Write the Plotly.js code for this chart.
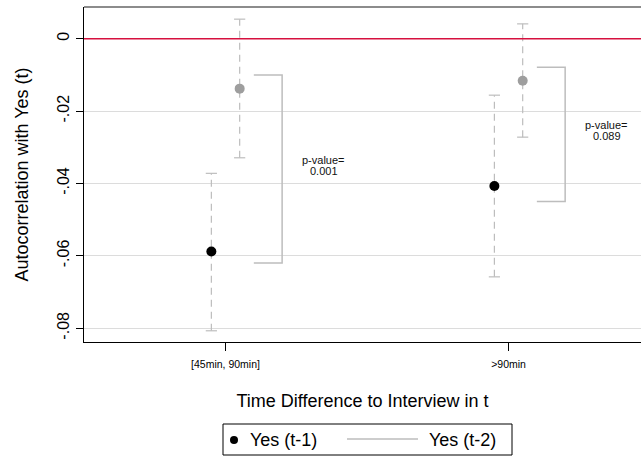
<!DOCTYPE html>
<html>
<head>
<meta charset="utf-8">
<script src="https://cdn.plot.ly/plotly-3.0.1.min.js"></script>
<style>html,body{margin:0;padding:0;background:#fff}#chart{width:641px;height:457px}</style>
</head>
<body>
<div id="chart"></div>
<script>
// ---- data ----
var categories = ["[45min, 90min]", ">90min"];
var catPos = [1, 2];
var yes1   = [-0.0588, -0.0407];
var yes1Lo = [-0.0807, -0.0658];
var yes1Hi = [-0.0372, -0.0156];
var yes2   = [-0.0138, -0.0116];
var yes2Lo = [-0.0329, -0.0272];
var yes2Hi = [ 0.0054,  0.0041];
var bracketTop = [-0.0100, -0.0079];
var bracketBot = [-0.0620, -0.0450];
var pValues = ["0.001", "0.089"];
var seriesNames = ["Yes (t-1)", "Yes (t-2)"];
var yTicks = [0, -0.02, -0.04, -0.06, -0.08];
var yTickText = ["0", "-.02", "-.04", "-.06", "-.08"];

// ---- layout constants ----
var OFF = 0.05, BR0 = 0.1, BR1 = 0.2, PX = 0.347;
var FONT = "Arial, 'Liberation Sans', sans-serif";
var WHISK = "#bdbdbd", GRAY2 = "#9e9e9e";
var ML = 84, MT = 7, PW = 557, PH = 335;
function px2x(p) { return (p - ML) / PW; }
function px2y(p) { return (MT + PH - p) / PH; }

function whiskers(off, lo, hi) {
  var x = [], y = [];
  catPos.forEach(function (c, i) { x.push(c + off, c + off, null); y.push(lo[i], hi[i], null); });
  return {x: x, y: y};
}
function caps(off, lo, hi) {
  var x = [], y = [];
  catPos.forEach(function (c, i) { x.push(c + off, c + off); y.push(lo[i], hi[i]); });
  return {x: x, y: y};
}
var w1 = whiskers(-OFF, yes1Lo, yes1Hi), w2 = whiskers(OFF, yes2Lo, yes2Hi);
var c1 = caps(-OFF, yes1Lo, yes1Hi), c2 = caps(OFF, yes2Lo, yes2Hi);
var bx = [], by = [];
catPos.forEach(function (c, i) {
  bx.push(c + BR0, c + BR1, c + BR1, c + BR0, null);
  by.push(bracketTop[i], bracketTop[i], bracketBot[i], bracketBot[i], null);
});

var traces = [
  {x: w1.x, y: w1.y, mode: "lines", line: {color: WHISK, width: 1.2, dash: "7px,5px"}, hoverinfo: "skip"},
  {x: w2.x, y: w2.y, mode: "lines", line: {color: WHISK, width: 1.2, dash: "7px,5px"}, hoverinfo: "skip"},
  {x: c1.x, y: c1.y, mode: "markers", marker: {symbol: "line-ew", size: 8, line: {color: WHISK, width: 1.2}}, hoverinfo: "skip"},
  {x: c2.x, y: c2.y, mode: "markers", marker: {symbol: "line-ew", size: 8, line: {color: WHISK, width: 1.2}}, hoverinfo: "skip"},
  {x: bx, y: by, mode: "lines", line: {color: WHISK, width: 1.5}, hoverinfo: "skip"},
  {x: catPos.map(function (c) { return c + OFF; }), y: yes2, mode: "markers", name: seriesNames[1],
   marker: {color: GRAY2, size: 10}},
  {x: catPos.map(function (c) { return c - OFF; }), y: yes1, mode: "markers", name: seriesNames[0],
   marker: {color: "#000", size: 10}}
];

var annotations = [];
catPos.forEach(function (c, i) {
  var mid = (bracketTop[i] + bracketBot[i]) / 2;
  annotations.push({x: c + PX, y: mid, xref: "x", yref: "y", text: "p-value=", showarrow: false,
    yshift: 9, font: {family: FONT, size: 11, color: "#111"}});
  annotations.push({x: c + PX, y: mid, xref: "x", yref: "y", text: pValues[i], showarrow: false,
    yshift: -1.5, font: {family: FONT, size: 11, color: "#111"}});
});
// manual legend (Stata style)
annotations.push({xref: "paper", yref: "paper", x: px2x(248), y: px2y(440), xanchor: "left", yanchor: "middle",
  text: seriesNames[0], showarrow: false, font: {family: FONT, size: 18, color: "#000"}});
annotations.push({xref: "paper", yref: "paper", x: px2x(427), y: px2y(440), xanchor: "left", yanchor: "middle",
  text: seriesNames[1], showarrow: false, font: {family: FONT, size: 18, color: "#000"}});

var shapes = [
  {type: "line", xref: "paper", x0: 0, x1: 1, yref: "y", y0: 0, y1: 0, line: {color: "#d6103f", width: 1.5}},
  {type: "line", xref: "paper", x0: 0, x1: 1, yref: "paper", y0: 1, y1: 1, line: {color: "#666", width: 1.5}},
  {type: "rect", xref: "paper", yref: "paper", x0: px2x(223), x1: px2x(512), y0: px2y(424), y1: px2y(455),
   line: {color: "#000", width: 1}, fillcolor: "rgba(0,0,0,0)"},
  {type: "circle", xref: "paper", yref: "paper", xsizemode: "pixel", ysizemode: "pixel",
   xanchor: px2x(234), yanchor: px2y(440), x0: -4, x1: 4, y0: -4, y1: 4,
   fillcolor: "#000", line: {color: "#000", width: 0}},
  {type: "line", xref: "paper", yref: "paper", x0: px2x(347), x1: px2x(418), y0: px2y(439), y1: px2y(439),
   line: {color: WHISK, width: 1.5}}
];

var layout = {
  width: 641, height: 457,
  margin: {l: ML, r: 0, t: MT, b: 457 - MT - PH, autoexpand: false},
  paper_bgcolor: "#fff", plot_bgcolor: "#fff",
  font: {family: FONT, color: "#000"},
  showlegend: false,
  xaxis: {
    range: [0.5, 2.468], tickmode: "array", tickvals: catPos, ticktext: categories,
    tickfont: {size: 10.5, family: FONT}, ticks: "outside", ticklen: 8, tickcolor: "#000",
    ticklabelstandoff: 4,
    showgrid: false, zeroline: false, showline: true, linecolor: "#000", linewidth: 1.2,
    title: {text: "Time Difference to Interview in t", font: {size: 18, family: FONT}, standoff: 25}
  },
  yaxis: {
    range: [-0.0838, 0.00876], tickmode: "array", tickvals: yTicks, ticktext: yTickText,
    tickangle: -90, tickfont: {size: 16, family: FONT}, ticks: "outside", ticklen: 7, tickcolor: "#000",
    showgrid: true, gridcolor: "#dcdcdc", gridwidth: 1, zeroline: false,
    showline: true, linecolor: "#000", linewidth: 1.2,
    title: {text: "Autocorrelation with Yes (t)", font: {size: 18, family: FONT}, standoff: 22}
  },
  shapes: shapes,
  annotations: annotations
};

Plotly.newPlot("chart", traces, layout, {displayModeBar: false, staticPlot: true});
</script>
</body>
</html>
